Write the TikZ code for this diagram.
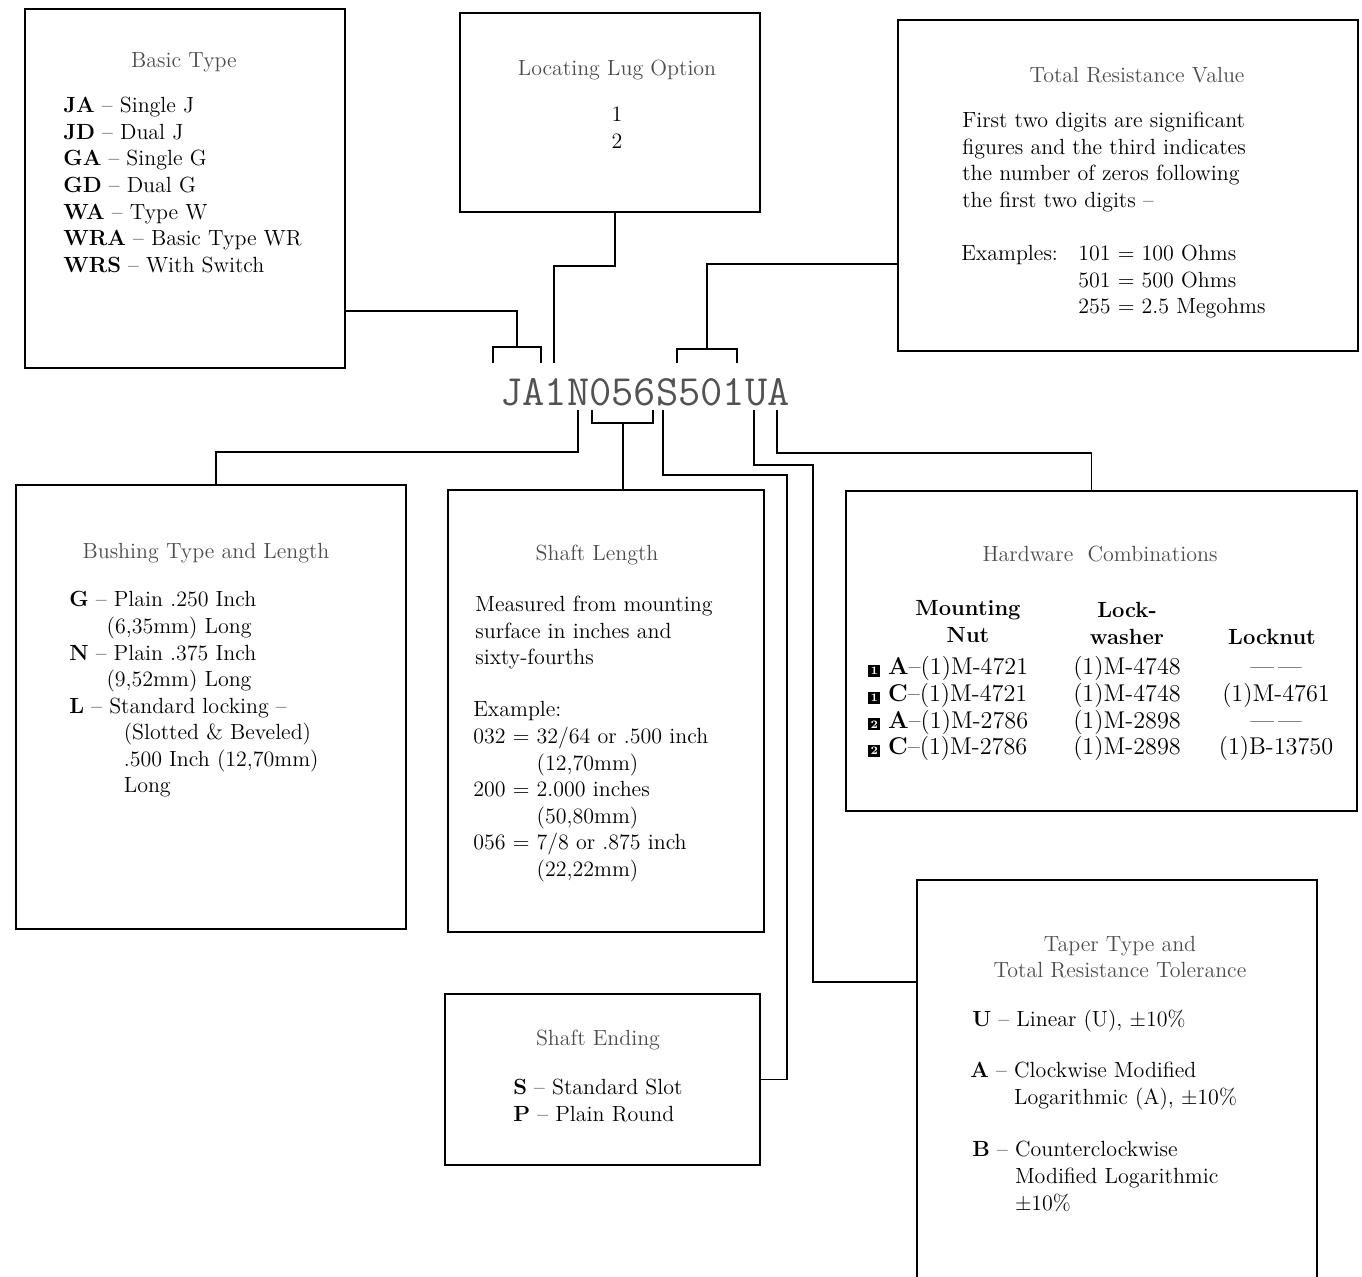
\documentclass[tikz,border=0pt]{standalone}
\usetikzlibrary{positioning,fit}
\newcommand\bodyfont{\fontsize{12.5}{15.1}\selectfont}
\newcommand\tablefont{\fontsize{13.8}{15.1}\selectfont}
\newcommand\sqnum[1]{{\setlength\fboxsep{1.3pt}\colorbox{black}{\textcolor{white}{\fontsize{6.5}{6.5}\selectfont\bfseries #1}}}}
\tikzset{
  pbox/.style={draw, line width=1.1pt, inner sep=0pt},
  plink/.style={line width=1.1pt},
  ptitle/.style={inner sep=0pt, align=center, text=black!70, font=\bodyfont},
  ptext/.style={anchor=north west, inner sep=0pt, align=left, font=\bodyfont},
  pcode/.style={inner sep=0pt, text=black!68, font=\ttfamily\fontsize{24.6}{26}\selectfont},
}

\begin{document}
\begin{tikzpicture}[x=0.02cm, y=-0.02cm]
  \useasboundingbox (0,0) rectangle (1362,1276);

  % boxes
  \node[pbox, fit={(25,9) (345,368)}] (basic) {};
  \node[pbox, fit={(460,13) (760,212)}] (lug) {};
  \node[pbox, fit={(898,20) (1358,351)}] (total) {};
  \node[pbox, fit={(16,485) (406,929)}] (bush) {};
  \node[pbox, fit={(448,490) (764,932)}] (shaft) {};
  \node[pbox, fit={(846,491) (1357,811)}] (hard) {};
  \node[pbox, fit={(917,880) (1317,1300)}] (taper) {};
  \node[pbox, fit={(445,994) (760,1165)}] (ending) {};

  % part number
  \node[pcode, anchor=base] (code) at (645,405) {JA1N056S501UA};

  % brackets above the code
  \coordinate (jaL) at (493,363);
  \coordinate (jaR) at (541,363);
  \coordinate (jaMid) at (517,347);
  \coordinate (lugEnd) at (554,363);
  \coordinate (resL) at (677,363);
  \coordinate (resR) at (737,363);
  \coordinate (resMid) at (707,349);
  \draw[plink] (jaL) |- (jaR |- jaMid) -- (jaR);
  \draw[plink] (jaMid) |- ([yshift=1.16cm]basic.south east);
  \draw[plink] ([xshift=0.1cm]lug.south) -- ++(0,53) -| (lugEnd);
  \draw[plink] (resL) |- (resR |- resMid) -- (resR);
  \draw[plink] (resMid) |- ([yshift=-1.57cm]total.west);

  % leads below the code
  \coordinate (nTop) at (578,410);
  \coordinate (slL) at (592,410);
  \coordinate (slR) at (653,410);
  \coordinate (slMid) at (623,423);
  \coordinate (sTop) at (663,410);
  \coordinate (uTop) at (754,410);
  \coordinate (aTop) at (777,410);
  \draw[plink] (nTop) -- ++(0,42) -| ([xshift=0.1cm]bush.north);
  \draw[plink] (slL) |- (slR |- slMid) -- (slR);
  \draw[plink] (slMid) -- (slMid |- shaft.north);
  \draw[plink] (sTop) |- ++(124,65) |- (ending.east);
  \draw[plink] (uTop) |- ++(59,55) |- ([yshift=-2.06cm]taper.north west);
  \draw[plink] (aTop) -- ++(0,43) -| ([xshift=-0.2cm]hard.north);

  % basic type
  \node[ptitle] (basicT) at (184,62) {Basic Type};
  \node[ptext] (basicL) at (63,94) {\strut\textbf{JA} -- Single J\\\textbf{JD} -- Dual J\\\textbf{GA} -- Single G\\\textbf{GD} -- Dual G\\\textbf{WA} -- Type W\\\textbf{WRA} -- Basic Type WR\\\textbf{WRS} -- With Switch};

  % locating lug
  \node[ptitle] (lugT) at (617,70) {Locating Lug Option};
  \node[ptext, anchor=north, align=center] (lugL) at (617,103) {\strut 1\\2};

  % total resistance
  \node[ptitle] (totalT) at (1137,75) {Total Resistance Value};
  \node[ptext] (totalL) at (962,109) {\strut First two digits are significant\\figures and the third indicates\\the number of zeros following\\the first two digits --};
  \node[ptext] (exT) at (961,242) {\strut Examples:};
  \node[ptext] (exL) at (1078,242) {\strut 101 = 100 Ohms\\501 = 500 Ohms\\255 = 2.5 Megohms};

  % bushing
  \node[ptitle] (bushT) at (206,553) {Bushing Type and Length};
  \node[ptext] (bushL) at (69,588) {\strut\textbf{G} -- Plain .250 Inch\\\phantom{\textbf{G} --}(6,35mm) Long\\\textbf{N} -- Plain .375 Inch\\\phantom{\textbf{N} --}(9,52mm) Long\\\textbf{L} -- Standard locking --\\\hspace*{31pt}(Slotted \& Beveled)\\\hspace*{31pt}.500 Inch (12,70mm)\\\hspace*{31pt}Long};

  % shaft length
  \node[ptitle] (shaftT) at (597,555) {Shaft Length};
  \node[ptext] (shaftL) at (475,593) {\strut Measured from mounting\\surface in inches and\\sixty-fourths};
  \node[ptext] (shaftEx) at (473,698) {\strut Example:\\032 = 32/64 or .500 inch\\\phantom{032 = }(12,70mm)\\200 = 2.000 inches\\\phantom{200 = }(50,80mm)\\056 = 7/8 or .875 inch\\\phantom{056 = }(22,22mm)};

  % hardware
  \node[ptitle] (hardT) at (1100,554) {Hardware\ \ Combinations};
  \node[ptext, anchor=north, align=center, font=\bodyfont\bfseries] (hMount) at (968,597) {\strut Mounting\\Nut};
  \node[ptext, anchor=north, align=center, font=\bodyfont\bfseries] (hLock) at (1127,599) {\strut Lock-\\washer};
  \node[ptext, anchor=north, align=center, font=\bodyfont\bfseries] (hNut) at (1272,626) {\strut Locknut};
  \node[ptext, font=\tablefont] (hCol1) at (868,656) {\strut\sqnum{1} \textbf{A}--(1)M-4721\\\sqnum{1} \textbf{C}--(1)M-4721\\\sqnum{2} \textbf{A}--(1)M-2786\\\sqnum{2} \textbf{C}--(1)M-2786};
  \node[ptext, anchor=north, align=center, font=\tablefont] (hCol2) at (1127,656) {\strut(1)M-4748\\(1)M-4748\\(1)M-2898\\(1)M-2898};
  \node[ptext, anchor=north, align=center, font=\tablefont] (hCol3) at (1276,656) {\strut---\,---\\(1)M-4761\\---\,---\\(1)B-13750};

  % taper
  \node[ptitle] (taperT) at (1120,957) {Taper Type and\\Total Resistance Tolerance};
  \node[ptext] (taperU) at (972,1008) {\strut\textbf{U} -- Linear (U), $\pm$10\%};
  \node[ptext] (taperA) at (970,1059) {\strut\textbf{A} -- Clockwise Modified\\\phantom{\textbf{A} -- }Logarithmic (A), $\pm$10\%};
  \node[ptext] (taperB) at (972,1138) {\strut\textbf{B} -- Counterclockwise\\\phantom{\textbf{B} -- }Modified Logarithmic\\\phantom{\textbf{B} -- }$\pm$10\%};

  % shaft ending
  \node[ptitle] (endT) at (598,1040) {Shaft Ending};
  \node[ptext] (endL) at (513,1076) {\strut\textbf{S} -- Standard Slot\\\textbf{P} -- Plain Round};
\end{tikzpicture}
\end{document}
